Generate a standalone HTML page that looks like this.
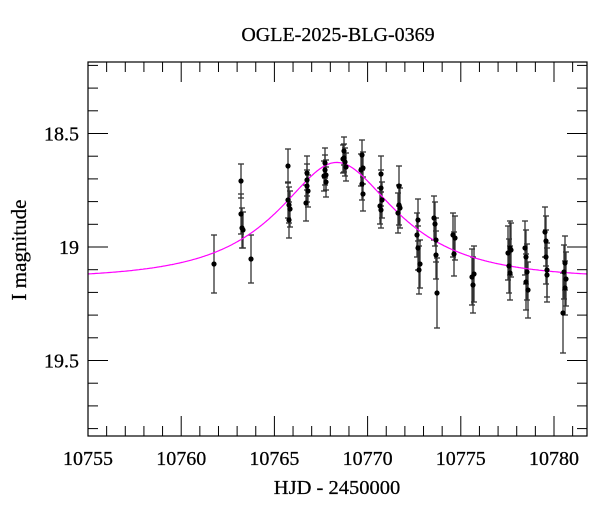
<!DOCTYPE html>
<html><head><meta charset="utf-8"><style>
body{margin:0;background:#fff}
svg text{font-family:"Liberation Serif",serif;fill:#000;stroke:#000;stroke-width:0.25}
</style></head><body>
<svg id="s" width="600" height="512" xmlns="http://www.w3.org/2000/svg">
<rect width="600" height="512" fill="#fff"/>
<text x="338" y="41" font-size="20" text-anchor="middle">OGLE-2025-BLG-0369</text>
<text x="337" y="494" font-size="20.5" text-anchor="middle">HJD - 2450000</text>
<text transform="translate(26,250) rotate(-90)" font-size="21" text-anchor="middle">I magnitude</text>
<g id="ax" stroke="#000" stroke-width="1" fill="none"></g>
<g id="eb" stroke="#333" stroke-width="1.3"></g>
<path id="cv" fill="none" stroke="#ff00ff" stroke-width="1.2"/>
<g id="pt" fill="#000"></g>
<rect x="88" y="62" width="499" height="374" fill="none" stroke="#000" stroke-width="1.2"/>
<g id="lb" font-size="20"></g>
</svg>
<script>
var NS="http://www.w3.org/2000/svg";
function el(p,t,a,txt){var e=document.createElementNS(NS,t);for(var k in a)e.setAttribute(k,a[k]);if(txt)e.textContent=txt;document.getElementById(p).appendChild(e);}
function X(t){return 88+(t-10755)*18.64;}
function Y(m){return 247+(m-19)*227;}
for(var d=10755;d<=10781;d++){var x=X(d),L=(d%5==0)?20:10;
el("ax","line",{x1:x,y1:436,x2:x,y2:436-L});el("ax","line",{x1:x,y1:62,x2:x,y2:62+L});
if(d%5==0)el("lb","text",{x:x,y:465,"text-anchor":"middle"},String(d));}
for(var i=0;i<=16;i++){var m=18.2+i*0.1,y=Y(m);if(y<62||y>436)continue;var maj=Math.abs(m*2-Math.round(m*2))<1e-6,L=maj?20:10;
el("ax","line",{x1:88,y1:y,x2:88+L,y2:y});el("ax","line",{x1:587,y1:y,x2:587-L,y2:y});
if(maj&&Math.abs(m-18.5)<.01)el("lb","text",{x:79,y:y+7,"text-anchor":"end"},"18.5");
if(maj&&Math.abs(m-19)<.01)el("lb","text",{x:79,y:y+7,"text-anchor":"end"},"19");
if(maj&&Math.abs(m-19.5)<.01)el("lb","text",{x:79,y:y+7,"text-anchor":"end"},"19.5");}
var t0=10768.35,tE=5.9,u0=0.5,m0=19.14,fs=0.51,d="";
for(var px=88;px<=587;px+=1){var t=10755+(px-88)/18.64,tau=(t-t0)/tE,u=Math.sqrt(u0*u0+tau*tau),A=(u*u+2)/(u*Math.sqrt(u*u+4));
var m=m0-2.5*Math.log10(fs*(A-1)+1);d+=(px==88?"M":"L")+px+","+Y(m).toFixed(1);}
document.getElementById("cv").setAttribute("d",d);
var P=[[214,264,29],[251,259,24],[241,181,17],[241,214,20],[242,228,20],[243,230,18],[288,166,17],[288,200,18],[289,205,18],[289,220,18],[290,209,18],[307,173,17],[307,180,16],[307,186,16],[306,203,18],[308,191,16],[325,163,15],[325,170,15],[326,175,15],[326,182,15],[324,176,15],[344,151,14],[344,158,14],[345,162,14],[346,167,14],[343,159,14],[362,155,15],[362,184,16],[361,170,16],[363,168,16],[363,194,17],[381,188,18],[380,206,18],[381,210,18],[382,200,18],[381,174,18],[399,186,20],[398,213,20],[400,208,20],[399,205,20],[418,220,21],[418,248,22],[420,264,24],[419,270,24],[417,235,22],[434,218,22],[435,224,22],[436,255,24],[437,293,35],[436,240,22],[453,235,22],[454,254,22],[455,238,22],[472,277,28],[473,285,28],[474,274,28],[508,253,27],[510,248,27],[509,266,27],[510,273,27],[511,250,27],[525,248,27],[526,257,27],[527,272,28],[528,290,28],[526,282,28],[545,232,25],[546,241,25],[546,257,27],[547,270,27],[547,275,27],[564,272,27],[565,263,27],[563,313,40],[565,288,27],[566,279,27]];
P.forEach(function(p){var x=p[0],y=p[1],e=p[2];
el("eb","line",{x1:x,y1:y-e,x2:x,y2:y+e});el("eb","line",{x1:x-3,y1:y-e,x2:x+3,y2:y-e});el("eb","line",{x1:x-3,y1:y+e,x2:x+3,y2:y+e});
el("pt","circle",{cx:x,cy:y,r:2.6});});
</script>
</body></html>
